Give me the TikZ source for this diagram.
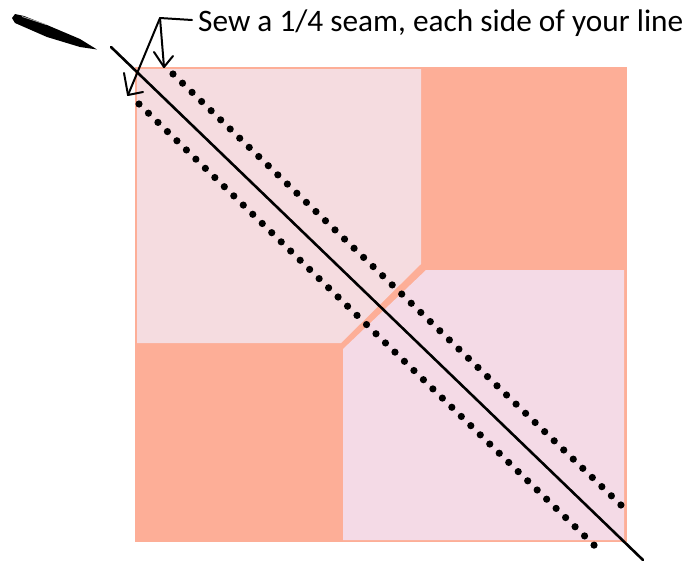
\documentclass[tikz,border=0pt]{standalone}
\usepackage{fontspec}
\setmainfont{Carlito}
\definecolor{quiltorange}{HTML}{FDAE97}
\definecolor{pinkA}{HTML}{F5DCE0}
\definecolor{pinkB}{HTML}{F4DAE6}
\tikzset{
  inkline/.style={draw=black,line width=2pt,line cap=round,line join=round},
  sewdot/.style={circle,fill=black,inner sep=0pt,minimum size=7.2pt},
  caption/.style={anchor=base west,inner sep=0pt,font=\fontsize{31.3}{35}\selectfont}
}
\begin{document}
\begin{tikzpicture}[x=1pt,y=-1pt]
\useasboundingbox (0,0) rectangle (688,560);
% quilt
\fill[quiltorange] (135,67) rectangle (627,542);
\fill[pinkA] (137,69) -- (421,69) -- (421,264) -- (341,343) -- (137,343) -- cycle;
\fill[pinkB] (343,540) -- (343,349) -- (426,270) -- (624,270) -- (624,540) -- cycle;
% stitching
\foreach \i in {0,...,47} \node[sewdot] (u\i) at ({173+\i*9.53},{74+\i*9.17}) {};
\foreach \i in {0,...,48} \node[sewdot] (l\i) at ({139+\i*9.48},{104+\i*9.19}) {};
% drawn line
\coordinate (lineA) at (111,47);
\coordinate (lineB) at (643,560);
\draw[inkline,line width=2.6pt] (lineA) -- (lineB);
% pen
\fill[black] (97,49.5) -- (80,47) -- (47,37) -- (15,23) -- (12,18) -- (15,14) -- (24,16) -- (47,25) -- (80,39) -- cycle;
\draw[white!70!black,line width=.7pt] (22,16.5) -- (46,24.5);
% label
\node[caption] (label) at (198,31) {Sew a 1/4 seam, each side of your line};
\coordinate (apex) at (160,18);
\coordinate (elbow) at (192,20);
\coordinate (tipL) at (128,95);
\coordinate (tipR) at (164,67);
\draw[inkline] (elbow) -- (apex) -- (tipL);
\draw[inkline] (apex) -- (tipR);
\coordinate (bL1) at (124,73);
\coordinate (bL2) at (143,92);
\coordinate (bR1) at (154,52);
\coordinate (bR2) at (173,56);
\draw[inkline] (bL1) -- (tipL) -- (bL2);
\draw[inkline] (bR1) -- (tipR) -- (bR2);
\end{tikzpicture}
\end{document}
